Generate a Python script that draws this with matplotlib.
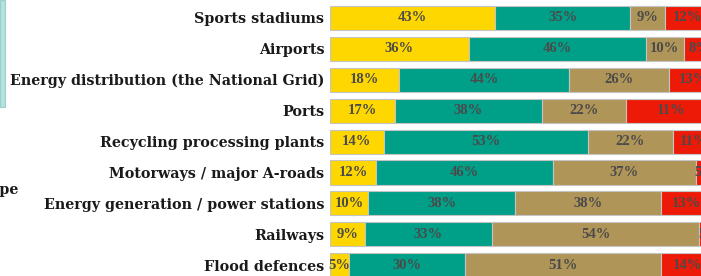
import matplotlib
matplotlib.use('Agg')
import matplotlib.pyplot as plt
from matplotlib.patches import Rectangle

# Data (percent of respondents)
categories = ['Sports stadiums', 'Airports', 'Energy distribution (the National Grid)',
              'Ports', 'Recycling processing plants', 'Motorways / major A-roads',
              'Energy generation / power stations', 'Railways', 'Flood defences']
yellow = [43, 36, 18, 17, 14, 12, 10, 9, 5]
green = [35, 46, 44, 38, 53, 46, 38, 33, 30]
tan = [9, 10, 26, 22, 22, 37, 38, 54, 51]
red = [12, 8, 13, 23, 11, 5, 13, 5, 14]
# printed labels (the Ports red label reads 11% in the source)
red_text = ['12%', '8%', '13%', '11%', '11%', '5%', '13%', '5%', '14%']

colors = ['#FFD700', '#009F88', '#B09559', '#EE1A08']
label_font = 'DejaVu Serif'
pct_font = 'Liberation Serif'

fig = plt.figure(figsize=(7.01, 2.76), dpi=100)
ax = fig.add_axes([330 / 701, 0, 1 - 330 / 701, 1])

y_pos = list(range(len(categories)))
series = [yellow, green, tan, red]
left = [0] * len(categories)
for s_idx, vals in enumerate(series):
    ax.barh(y_pos, vals, left=left, height=0.78, color=colors[s_idx],
            edgecolor='#c4c4c4', linewidth=0.8)
    for i, v in enumerate(vals):
        if s_idx == 3:
            txt = red_text[i]
        else:
            txt = '{}%'.format(v)
        ax.text(left[i] + v / 2.0, i, txt, ha='center', va='center',
                fontsize=10.5, family=pct_font, fontweight='bold', color='#4a4a4a')
    left = [left[i] + vals[i] for i in range(len(vals))]

ax.set_xlim(0, 96.4)
ax.set_ylim(8.35, -0.58)
ax.set_yticks(y_pos)
ax.set_yticklabels(categories, fontsize=10.3, family=label_font, fontweight='bold',
                   color='#1a1a1a')
ax.tick_params(axis='y', length=0, pad=4)
ax.set_xticks([])
for sp in ax.spines.values():
    sp.set_visible(False)

# partial legend box and axis title cut off at the left edge
fig.patches.append(Rectangle((0, 1 - 107 / 276), 5 / 701, 107 / 276,
                             transform=fig.transFigure, facecolor='#b2e4df',
                             edgecolor='#9ccfca', linewidth=0.8))
fig.text(18 / 701, 1 - 190 / 276, 'Infrastructure type', ha='right', va='center',
         fontsize=10.3, family=label_font, fontweight='bold', color='#1a1a1a')

fig.savefig('out.png', dpi=100)
